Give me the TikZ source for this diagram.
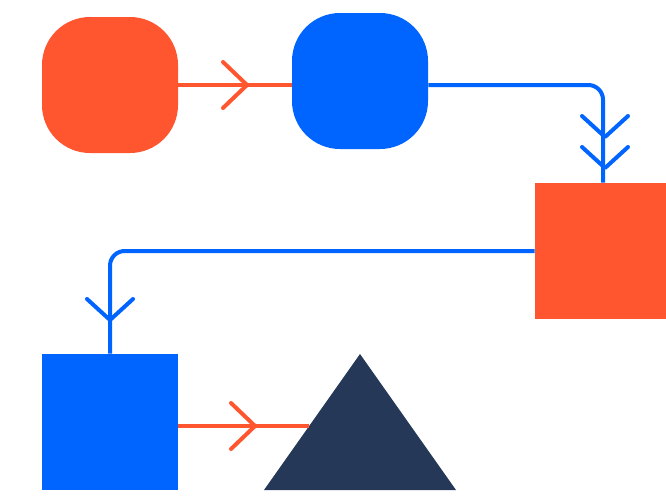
\documentclass[tikz,border=0pt]{standalone}
\usepackage{amsmath}
\usepackage{amssymb}
\usepackage{tikz}

\definecolor{orng}{HTML}{FF5630}
\definecolor{blu}{HTML}{0065FF}
\definecolor{navy}{HTML}{253858}

\begin{document}
\begin{tikzpicture}[x=0.75pt,y=0.75pt,yscale=-1,xscale=1,
  rbox/.style={inner sep=0pt,minimum size=102pt,rounded corners=36pt},
  sbox/.style={inner sep=0pt,minimum size=102pt},
  orline/.style={draw=orng,line width=3pt,line cap=round,line join=round},
  buline/.style={draw=blu,line width=3pt,line cap=round,line join=round},
  chevr/.pic={\draw[pic actions] (-24,-23) -- (0,0) -- (-24,23);},
  chevd/.pic={\draw[pic actions] (-23,21) -- (0,0) -- (23,21);}]
\useasboundingbox (0,0) rectangle (666,500);

%Shapes
\node[rbox,fill=orng] (start) at (110,85) {};
\node[rbox,fill=blu] (round2) at (360,81) {};
\node[sbox,fill=orng] (sq1) at (603,251) {};
\node[sbox,fill=blu] (sq2) at (110,422) {};
\fill[navy] (264,490) -- (360,354) -- (456,490) -- cycle;
\coordinate (tri-in) at (309,426);

%Connectors
\draw[orline,line cap=butt] (start.east) -- (start.east -| round2.west);
\pic[orline] at (247,85) {chevr};
\draw[buline,line cap=butt,rounded corners=11pt] (round2.east |- start.east) -- (start.east -| sq1.north) -- (sq1.north);
\pic[buline] at (605,137) {chevd};
\pic[buline] at (605,168) {chevd};
\draw[buline,line cap=butt,rounded corners=11pt] (sq1.west) -- (sq1.west -| sq2.north) -- (sq2.north);
\pic[buline] at (110,320) {chevd};
\draw[orline,line cap=butt] (sq2.east |- tri-in) -- (tri-in);
\pic[orline] at (255,426) {chevr};

\end{tikzpicture}
\end{document}
